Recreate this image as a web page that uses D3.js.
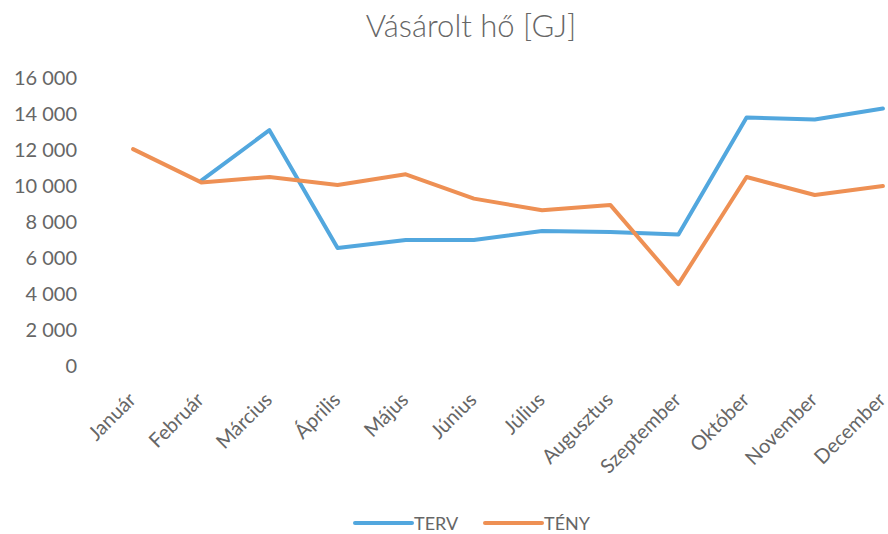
<!DOCTYPE html>
<html>
<head>
<meta charset="utf-8">
<script src="https://cdn.jsdelivr.net/npm/d3@7"></script>
<style>
  body { margin: 0; background: #fff; }
  svg { display: block; font-family: Lato, 'Open Sans', sans-serif; }
</style>
</head>
<body>
<svg id="chart"></svg>
<script>
const months = ['Január', 'Február', 'Március', 'Április', 'Május', 'Június',
  'Július', 'Augusztus', 'Szeptember', 'Október', 'November', 'December'];
const terv = [null, 10300, 13100, 6550, 7000, 7000, 7500, 7450, 7300, 13800, 13700, 14300];
const teny = [12050, 10200, 10500, 10050, 10650, 9300, 8650, 8950, 4550, 10500, 9500, 10000];
const yTicks = [0, 2000, 4000, 6000, 8000, 10000, 12000, 14000, 16000];
const seriesNames = ['TERV', 'TÉNY'];
const colors = ['#52a7de', '#ee9054'];
const textColor = '#666666';

const width = 888;
const height = 534;
const margin = { top: 78, right: -29, bottom: 168, left: 99 };
const graphW = width - margin.left - margin.right;
const graphH = height - margin.top - margin.bottom;

const svg = d3.select('#chart')
  .attr('width', width)
  .attr('height', height);

const x = d3.scaleBand().domain(months).range([0, graphW]);
const y = d3.scaleLinear().domain([0, 16000]).range([graphH, 0]);

// title
svg.append('text')
  .attr('x', 471)
  .attr('y', 37)
  .attr('text-anchor', 'middle')
  .attr('fill', textColor)
  .style('font-size', '31px')
  .style('font-weight', 300)
  .text('Vásárolt hő [GJ]');

const g = svg.append('g')
  .attr('transform', `translate(${margin.left},${margin.top})`);

// y axis labels
const yAxis = g.append('g')
  .attr('class', 'y-axis')
  .attr('transform', 'translate(-22,0)')
  .call(d3.axisLeft(y).tickValues(yTicks).tickSize(0)
    .tickFormat(d => d3.format(',')(d).replace(/,/g, ' ')));
yAxis.select('.domain').remove();
yAxis.selectAll('text')
  .attr('fill', textColor)
  .attr('x', 0)
  .style('font-size', '20px')
  .style('font-family', 'Lato, sans-serif');

// x axis labels
const xAxis = g.append('g')
  .attr('class', 'x-axis')
  .attr('transform', `translate(0,${graphH})`)
  .call(d3.axisBottom(x).tickSize(0));
xAxis.select('.domain').remove();
xAxis.selectAll('text')
  .attr('fill', textColor)
  .style('font-size', '20px')
  .style('font-family', 'Lato, sans-serif')
  .style('text-anchor', 'end')
  .attr('x', 4)
  .attr('y', 35)
  .attr('dy', 0)
  .attr('transform', 'rotate(-45, 4, 35)');

// lines
const line = d3.line()
  .defined(d => d.v !== null)
  .x(d => x(d.m) + x.bandwidth() / 2)
  .y(d => y(d.v));

[terv, teny].forEach((vals, i) => {
  g.append('path')
    .datum(months.map((m, j) => ({ m, v: vals[j] })))
    .attr('fill', 'none')
    .attr('stroke', colors[i])
    .attr('stroke-width', 4)
    .attr('stroke-linejoin', 'round')
    .attr('stroke-linecap', 'round')
    .attr('d', line);
});

// legend
const legend = svg.append('g')
  .attr('transform', 'translate(355,523)');
const legendX = [0, 130];
seriesNames.forEach((name, i) => {
  const item = legend.append('g').attr('transform', `translate(${legendX[i]},0)`);
  item.append('line')
    .attr('x1', 0).attr('x2', 57)
    .attr('stroke', colors[i])
    .attr('stroke-width', 4)
    .attr('stroke-linecap', 'round');
  item.append('text')
    .attr('x', 59)
    .attr('y', 7)
    .attr('fill', textColor)
    .style('font-size', '18px')
    .text(name);
});
</script>
</body>
</html>
